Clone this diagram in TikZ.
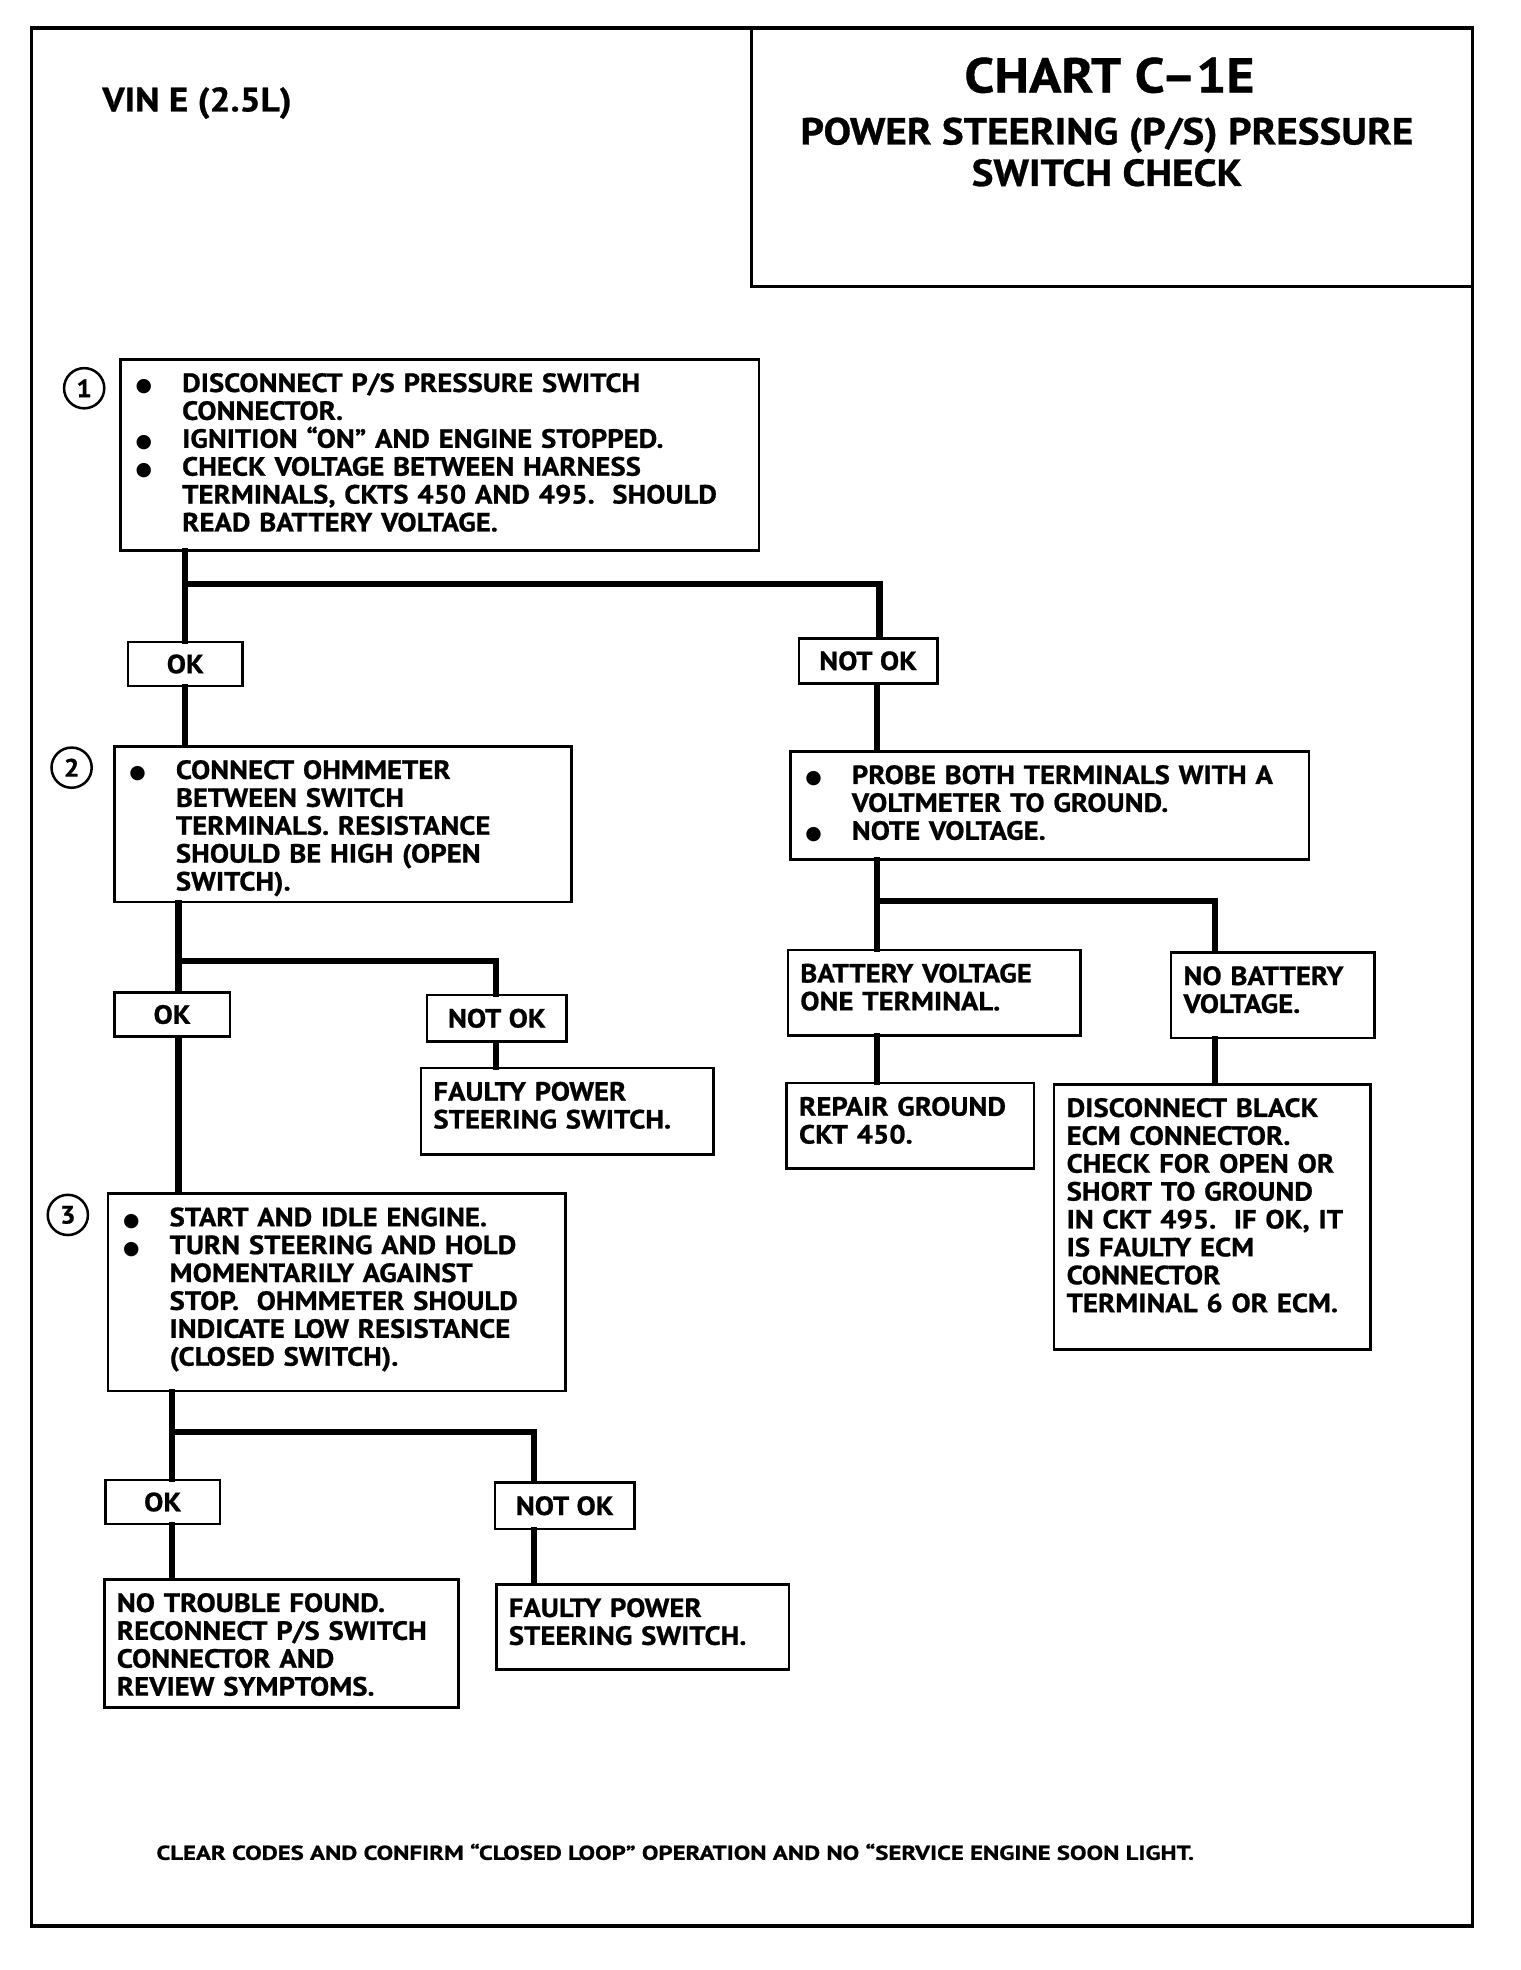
\documentclass[tikz,border=0pt]{standalone}
\usepackage{fontspec}
\setmainfont{PT Sans}[BoldFeatures={FakeStretch=1.09,FakeBold=0.8}]
\newfontfamily\symf{DejaVu Sans}
\newcommand\bl{\makebox[37pt][l]{\symf\fontsize{15}{15}\selectfont ●}}
\newcommand\ind{\hspace*{37pt}}
\begin{document}
\begin{tikzpicture}[x=1pt,y=-1pt,
  every node/.style={font=\bfseries\fontsize{21}{22.2}\selectfont},
  box/.style={draw, line width=2pt, anchor=north west, align=left,
    inner ysep=11pt, text height=15pt},
  bbox/.style={box, inner xsep=12pt},
  pbox/.style={box, inner xsep=10pt},
  tag/.style={draw, line width=2pt, minimum height=35pt, inner sep=0pt},
  num/.style={draw, circle, line width=2pt, minimum size=32pt, inner sep=0pt,
    font=\bfseries\fontsize{20}{20}\selectfont},
  conn/.style={line width=5pt, line cap=rect, line join=miter}]
\fill[white] (0,0) rectangle (1210,1568);
\useasboundingbox (0,0) rectangle (1210,1568);
% frame and title block
\draw[line width=3pt] (25,22) rectangle (1172,1533);
\draw[line width=2.5pt] (598,22) |- (1172,228);
\node[font=\bfseries\fontsize{27}{27}\selectfont, anchor=west] (vin) at (78,82) {VIN E (2.5L)};
\node[font=\bfseries\fontsize{39}{39}\selectfont] (chart) at (883,60) {CHART C–1E};
\node[font=\bfseries\fontsize{30}{33}\selectfont, align=center] (title) at (881,121)
  {POWER STEERING (P/S) PRESSURE\\SWITCH CHECK};
% step numbers
\node[num] (n1) at (67,309) {1};
\node[num] (n2) at (57,611) {2};
\node[num] (n3) at (54,967) {3};
% boxes
\node[bbox, text width=484pt, text depth=115pt] (b1) at (95,285)
 {\bl DISCONNECT P/S PRESSURE SWITCH\\\ind CONNECTOR.\\
  \bl IGNITION “ON” AND ENGINE STOPPED.\\
  \bl CHECK VOLTAGE BETWEEN HARNESS\\\ind TERMINALS, CKTS 450 AND 495.\ \ SHOULD\\\ind READ BATTERY VOLTAGE.};
\node[tag, minimum width=91pt] (ok1) at (147.5,528.5) {OK};
\node[tag, minimum width=110pt, minimum height=36pt] (nok1) at (691,526) {NOT OK};
\node[bbox, text width=340pt, text depth=87pt] (b2) at (90,593)
 {\bl CONNECT OHMMETER\\\ind BETWEEN SWITCH\\\ind TERMINALS. RESISTANCE\\\ind SHOULD BE HIGH (OPEN\\\ind SWITCH).};
\node[bbox, text width=389pt, text depth=49pt] (r1) at (628,597)
 {\bl PROBE BOTH TERMINALS WITH A\\\ind VOLTMETER TO GROUND.\\\bl NOTE VOLTAGE.};
\node[pbox, text width=213pt, text depth=31pt] (bv) at (626,755)
 {BATTERY VOLTAGE\\ONE TERMINAL.};
\node[pbox, text width=142pt, text depth=31pt] (nbv) at (931,757)
 {NO BATTERY\\VOLTAGE.};
\node[pbox, text width=177pt, text depth=31pt] (rep) at (625,861)
 {REPAIR GROUND\\CKT 450.};
\node[pbox, text width=232pt, text depth=174pt] (db) at (838,862)
 {DISCONNECT BLACK\\ECM CONNECTOR.\\CHECK FOR OPEN OR\\SHORT TO GROUND\\IN CKT 495.\ \ IF OK, IT\\IS FAULTY ECM\\CONNECTOR\\TERMINAL 6 OR ECM.};
\node[tag, minimum width=92pt] (ok2) at (137,807.5) {OK};
\node[tag, minimum width=111pt, minimum height=37pt] (nok2) at (395.5,810.5) {NOT OK};
\node[pbox, text width=213pt, text depth=32pt] (f2) at (334,849)
 {FAULTY POWER\\STEERING SWITCH.};
\node[bbox, text width=340pt, text depth=120pt] (b3) at (85,949)
 {\bl START AND IDLE ENGINE.\\\bl TURN STEERING AND HOLD\\\ind MOMENTARILY AGAINST\\\ind STOP.\ \ OHMMETER SHOULD\\\ind INDICATE LOW RESISTANCE\\\ind (CLOSED SWITCH).};
\node[tag, minimum width=91pt] (ok3) at (129.5,1195.5) {OK};
\node[tag, minimum width=111pt, minimum height=37pt] (nok3) at (449.5,1198.5) {NOT OK};
\node[pbox, text width=262pt, text depth=65pt] (nt) at (82,1256)
 {NO TROUBLE FOUND.\\RECONNECT P/S SWITCH\\CONNECTOR AND\\REVIEW SYMPTOMS.};
\node[pbox, text width=213pt, text depth=31pt] (f3) at (394,1260)
 {FAULTY POWER\\STEERING SWITCH.};
\node[font=\bfseries\fontsize{16}{16}\selectfont, anchor=west] (foot) at (121,1474)
 {\scalebox{1.13}[1]{CLEAR CODES AND CONFIRM “CLOSED LOOP” OPERATION AND NO “SERVICE ENGINE SOON LIGHT.}};
% junction coordinates
\coordinate (j1) at (147,465);
\coordinate (j1r) at (700,465);
\coordinate (x1) at (698,0);
\coordinate (j2) at (142,765);
\coordinate (j2r) at (395,765);
\coordinate (j3) at (698,717);
\coordinate (j3r) at (967,717);
\coordinate (j4) at (137,1140);
\coordinate (j4r) at (425,1140);
% connectors
\draw[conn] (b1.south -| j1) -- (j1) -- (ok1.north -| j1);
\draw[conn] (j1) -- (j1r) -- (nok1.north -| j1r);
\draw[conn] (ok1.south -| j1) -- (b2.north -| j1);
\draw[conn] (nok1.south -| x1) -- (r1.north -| x1);
\draw[conn] (r1.south -| j3) -- (j3) -- (bv.north -| j3);
\draw[conn] (j3) -- (j3r) -- (nbv.north -| j3r);
\draw[conn] (bv.south -| j3) -- (rep.north -| j3);
\draw[conn] (nbv.south -| j3r) -- (db.north -| j3r);
\draw[conn] (b2.south -| j2) -- (j2) -- (ok2.north -| j2);
\draw[conn] (j2) -- (j2r) -- (nok2.north -| j2r);
\draw[conn] (nok2.south -| j2r) -- (f2.north -| j2r);
\draw[conn] (ok2.south -| j2) -- (b3.north -| j2);
\draw[conn] (b3.south -| j4) -- (j4) -- (ok3.north -| j4);
\draw[conn] (j4) -- (j4r) -- (nok3.north -| j4r);
\draw[conn] (ok3.south -| j4) -- (nt.north -| j4);
\draw[conn] (nok3.south -| j4r) -- (f3.north -| j4r);
\end{tikzpicture}
\end{document}
